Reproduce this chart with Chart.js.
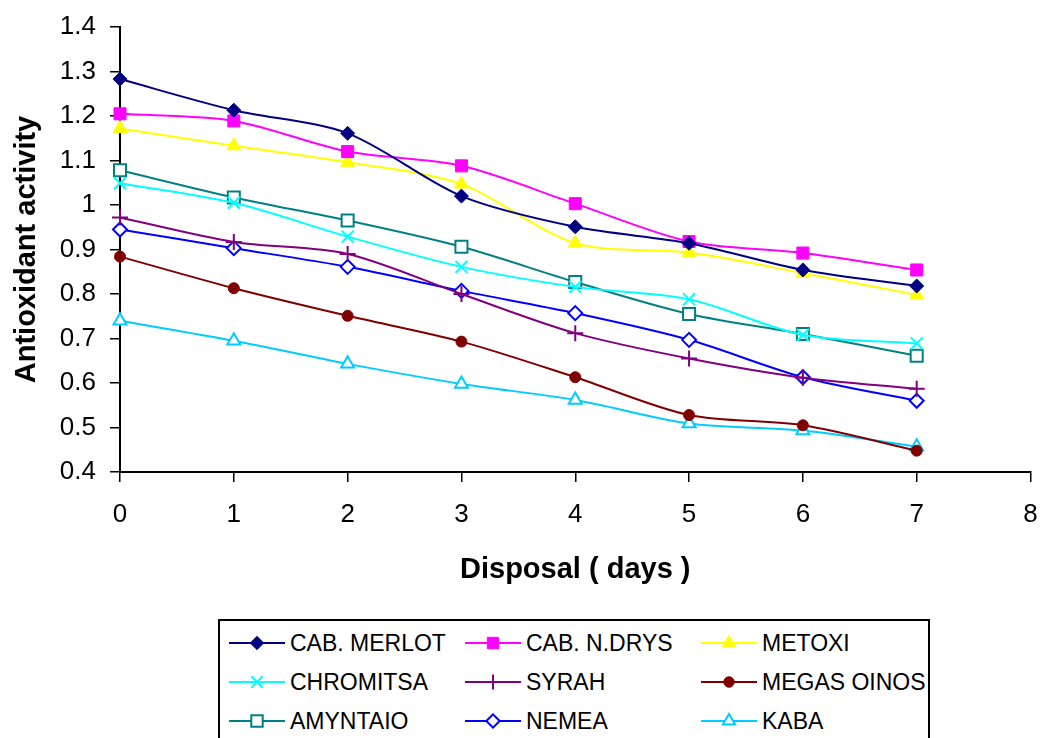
<!DOCTYPE html>
<html>
<head>
<meta charset="utf-8">
<title>Antioxidant activity</title>
<script src="https://cdn.jsdelivr.net/npm/chart.js@4.4.0/dist/chart.umd.min.js"></script>
<style>
  body { margin: 0; background: #fff; font-family: "Liberation Sans", Arial, sans-serif; }
  #wrap { position: relative; width: 1041px; height: 738px; overflow: hidden; }
  #chartBox { position: absolute; left: 0; top: 0; width: 1041px; height: 600px; }
  #legend { position: absolute; left: 218px; top: 619px; width: 712px; height: 140px;
            border: 2px solid #000; box-sizing: border-box; }
  .item { position: absolute; height: 30px; display: flex; align-items: center;
          font-size: 23px; color: #000; white-space: nowrap; }
  .item canvas { margin-right: 5px; }
</style>
</head>
<body>
<div id="wrap">
  <div id="chartBox"><canvas id="myChart"></canvas></div>
  <div id="legend"></div>
</div>
<script>
// days on x axis
var days = [0, 1, 2, 3, 4, 5, 6, 7]

var wines = ['CAB. MERLOT', 'CAB. N.DRYS', 'METOXI', 'CHROMITSA', 'SYRAH',
             'MEGAS OINOS', 'AMYNTAIO', 'NEMEA', 'KABA']

var cabMerlot  = [1.283, 1.213, 1.161, 1.020, 0.951, 0.914, 0.854, 0.818]
var cabNDrys   = [1.205, 1.189, 1.120, 1.088, 1.003, 0.918, 0.892, 0.854]
var metoxi     = [1.172, 1.133, 1.096, 1.047, 0.914, 0.893, 0.847, 0.798]
var chromitsa  = [1.049, 1.005, 0.929, 0.861, 0.816, 0.788, 0.708, 0.689]
var syrah      = [0.972, 0.917, 0.890, 0.800, 0.712, 0.655, 0.612, 0.587]
var megasOinos = [0.884, 0.813, 0.751, 0.693, 0.613, 0.528, 0.505, 0.448]
var amyntaio   = [1.078, 1.017, 0.965, 0.906, 0.827, 0.755, 0.710, 0.661]
var nemea      = [0.945, 0.903, 0.861, 0.807, 0.757, 0.697, 0.613, 0.560]
var kaba       = [0.740, 0.695, 0.643, 0.598, 0.562, 0.509, 0.493, 0.457]

var allValues = [cabMerlot, cabNDrys, metoxi, chromitsa, syrah, megasOinos, amyntaio, nemea, kaba]

var colors  = ['#000080', '#FF00FF', '#FFFF00', '#00FFFF', '#800080', '#800000', '#008080', '#0000FF', '#00CCFF']
var shapes  = ['rectRot', 'rect', 'triangle', 'crossRot', 'cross', 'circle', 'rect', 'rectRot', 'triangle']
var filled  = [true, true, true, false, false, true, false, false, false]
var sizes   = [7, 8.5, 8, 8.5, 8, 5.5, 8.5, 7, 7.5]

var datasets = wines.map(function (name, i) {
    return {
        label: name,
        data: days.map(function (d, j) { return { x: d, y: allValues[i][j] } }),
        borderColor: colors[i],
        borderWidth: 2,
        backgroundColor: filled[i] ? colors[i] : '#ffffff',
        pointStyle: shapes[i],
        pointRadius: sizes[i],
        pointHoverRadius: sizes[i],
        pointBorderColor: colors[i],
        pointBorderWidth: filled[i] ? 1 : 2,
        pointBackgroundColor: filled[i] ? colors[i] : '#ffffff',
        tension: 0.3,
        clip: false
    }
})

var ctx = document.getElementById('myChart')
var myChart = new Chart(ctx, {
    type: 'line',
    data: { datasets: datasets },
    options: {
        responsive: true,
        maintainAspectRatio: false,
        animation: false,
        layout: { padding: { top: 27, right: 9, bottom: 0, left: 0 } },
        plugins: {
            legend: { display: false },
            tooltip: { enabled: false }
        },
        scales: {
            x: {
                type: 'linear',
                min: 0,
                max: 8,
                afterFit: function (scale) {
                    scale.height = 128
                    scale.paddingLeft = 0
                    scale.paddingRight = 0
                },
                ticks: { stepSize: 1, color: '#000', padding: 17,
                         font: { family: 'Liberation Sans', size: 26 } },
                grid: { drawOnChartArea: false, drawTicks: true, tickLength: 10,
                        color: '#000', lineWidth: 1.5 },
                border: { color: '#000', width: 2 },
                title: { display: true, text: 'Disposal ( days )', color: '#000',
                         padding: { top: 0, bottom: 13 },
                         font: { family: 'Liberation Sans', size: 29, weight: 'bold' } }
            },
            y: {
                min: 0.4,
                max: 1.4,
                afterFit: function (scale) {
                    scale.width = 120
                    scale.paddingTop = 0
                    scale.paddingBottom = 0
                },
                ticks: { stepSize: 0.1, color: '#000', padding: 14,
                         font: { family: 'Liberation Sans', size: 26 },
                         callback: function (v) { return String(+v.toFixed(1)) } },
                grid: { drawOnChartArea: false, drawTicks: true, tickLength: 10,
                        color: '#000', lineWidth: 1.5 },
                border: { color: '#000', width: 2 },
                title: { display: true, text: 'Antioxidant activity', color: '#000',
                         padding: { top: 10, bottom: 0 },
                         font: { family: 'Liberation Sans', size: 29, weight: 'bold' } }
            }
        }
    }
})

// html legend in 3 columns, samples drawn with Chart.js point helper
function drawSample(cv, i) {
    var c = cv.getContext('2d')
    c.strokeStyle = colors[i]
    c.lineWidth = 2
    c.beginPath()
    c.moveTo(0, 15)
    c.lineTo(56, 15)
    c.stroke()
    c.fillStyle = filled[i] ? colors[i] : '#ffffff'
    c.lineWidth = filled[i] ? 1 : 2
    var opts = { pointStyle: shapes[i], radius: sizes[i] * 0.95, rotation: 0, borderWidth: c.lineWidth }
    if (Chart.helpers && Chart.helpers.drawPoint) {
        Chart.helpers.drawPoint(c, opts, 28, 15)
    }
}

var legendEl = document.getElementById('legend')
var colLeft = [9, 245, 481]
var rowTop  = [7, 46, 85]
wines.forEach(function (name, i) {
    var item = document.createElement('div')
    item.className = 'item'
    item.style.left = colLeft[i % 3] + 'px'
    item.style.top = rowTop[Math.floor(i / 3)] + 'px'
    var cv = document.createElement('canvas')
    cv.width = 56
    cv.height = 30
    item.appendChild(cv)
    var span = document.createElement('span')
    span.textContent = name
    item.appendChild(span)
    legendEl.appendChild(item)
    drawSample(cv, i)
})
</script>
</body>
</html>
